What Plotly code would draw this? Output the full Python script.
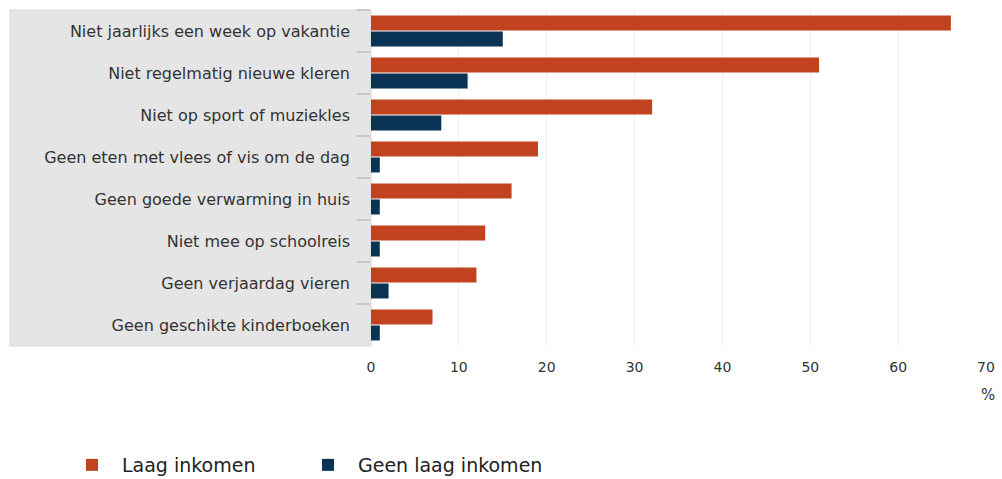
import plotly.graph_objects as go

categories = [
    "Niet jaarlijks een week op vakantie",
    "Niet regelmatig nieuwe kleren",
    "Niet op sport of muziekles",
    "Geen eten met vlees of vis om de dag",
    "Geen goede verwarming in huis",
    "Niet mee op schoolreis",
    "Geen verjaardag vieren",
    "Geen geschikte kinderboeken",
]
laag_inkomen = [66, 51, 32, 19, 16, 13, 12, 7]
geen_laag_inkomen = [15, 11, 8, 1, 1, 1, 2, 1]
x_ticks = [0, 10, 20, 30, 40, 50, 60, 70]

ORANGE = "#C1421F"
NAVY = "#0B3356"
FONT = "DejaVu Sans"

fig = go.Figure()
fig.add_trace(go.Bar(y=categories, x=laag_inkomen, orientation="h", legend="legend",
                     name="Laag inkomen", marker=dict(color=ORANGE, line=dict(width=0))))
fig.add_trace(go.Bar(y=categories, x=geen_laag_inkomen, orientation="h", legend="legend2",
                     name="Geen laag inkomen", marker=dict(color=NAVY, line=dict(width=0))))

W, H = 1002, 479
ml, mr, mt, mb = 371, 16, 10, 133
pw = W - ml - mr
ph = H - mt - mb

# grey label panel
fig.add_shape(type="rect", xref="x domain", yref="y domain",
              x0=(10 - ml) / pw, x1=0, y0=0, y1=1,
              fillcolor="#e5e5e5", line=dict(color="#d8d8d8", width=1), layer="below")

fig.add_annotation(text="%", xref="paper", yref="paper",
                   x=(988 - ml) / pw, y=-(395 - (H - mb)) / ph,
                   showarrow=False, font=dict(family=FONT, size=15, color="#333"),
                   xanchor="center", yanchor="middle")

legend_common = dict(orientation="h", xanchor="left",
                     y=-(465 - (H - mb)) / ph, yanchor="middle",
                     font=dict(family=FONT, size=19, color="#222"),
                     itemwidth=50, bgcolor="rgba(0,0,0,0)")

fig.update_layout(
    width=W, height=H,
    margin=dict(l=ml, r=mr, t=mt, b=mb, autoexpand=False),
    paper_bgcolor="white", plot_bgcolor="white",
    barmode="group", bargap=0.24, bargroupgap=0.06,
    font=dict(family=FONT, size=13, color="#333"),
    showlegend=True,
    legend=dict(x=(62 - ml) / pw, **legend_common),
    legend2=dict(x=(298 - ml) / pw, **legend_common),
    xaxis=dict(range=[0, 70], tickvals=x_ticks, showgrid=True, gridcolor="#f0f0f0",
               zeroline=False, showline=False, ticks="", ticklabelstandoff=11,
               tickfont=dict(family=FONT, size=14, color="#333")),
    yaxis=dict(autorange="reversed", ticks="outside", tickson="boundaries",
               ticklen=13, tickcolor="#c8c8c8", tickwidth=2, showgrid=False,
               ticklabelstandoff=20, showline=False, zeroline=False,
               tickfont=dict(family=FONT, size=16, color="#333")),
)

fig.write_html("out.html", config={"displayModeBar": False},
               post_script="document.body.style.margin='0';")
